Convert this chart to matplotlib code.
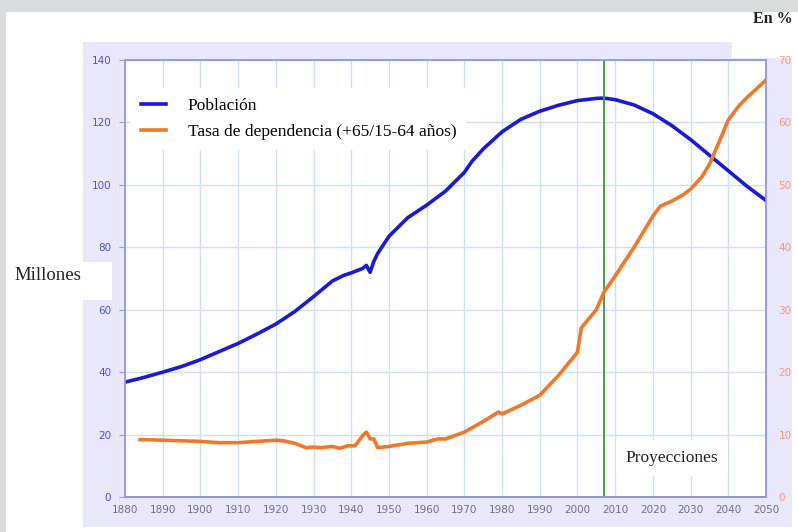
import numpy as np
import matplotlib.pyplot as plt
from matplotlib.patches import Rectangle

# poblacion (millones), eje izquierdo
pop_years = [1880, 1885, 1890, 1895, 1900, 1905, 1910, 1915, 1920, 1925, 1930, 1935,
             1938, 1940, 1943, 1944, 1945, 1946, 1947, 1950, 1955, 1960, 1965, 1970,
             1972, 1975, 1980, 1985, 1990, 1995, 2000, 2005, 2007, 2010, 2015, 2020,
             2025, 2030, 2035, 2040, 2045, 2050]
pop_vals = [36.8, 38.3, 40.0, 41.8, 44.0, 46.6, 49.2, 52.2, 55.4, 59.4, 64.2, 69.2,
            71.0, 71.8, 73.2, 74.2, 72.0, 75.5, 78.0, 83.5, 89.5, 93.5, 98.0, 104.0,
            107.5, 111.5, 117.0, 121.0, 123.6, 125.5, 127.0, 127.7, 127.8, 127.3, 125.6, 122.8,
            119.0, 114.5, 109.5, 104.5, 99.5, 95.0]

# tasa de dependencia (%), eje derecho
dep_years = [1884, 1890, 1900, 1905, 1910, 1915, 1920, 1922, 1925, 1928, 1930, 1932,
             1935, 1937, 1939, 1941, 1943, 1944, 1945, 1946, 1947, 1950, 1955, 1960,
             1963, 1965, 1970, 1975, 1979, 1980, 1985, 1990, 1995, 2000, 2001, 2005,
             2007, 2010, 2015, 2020, 2022, 2025, 2028, 2030, 2033, 2035, 2038, 2040,
             2043, 2045, 2050]
dep_vals = [9.2, 9.1, 8.9, 8.7, 8.7, 8.9, 9.1, 9.0, 8.6, 7.9, 8.0, 7.9,
            8.1, 7.8, 8.2, 8.2, 9.8, 10.4, 9.3, 9.3, 7.9, 8.1, 8.6, 8.8,
            9.3, 9.3, 10.4, 12.1, 13.6, 13.3, 14.7, 16.3, 19.5, 23.2, 27.1, 30.0,
            32.8, 35.4, 40.0, 45.0, 46.6, 47.4, 48.4, 49.3, 51.3, 53.3, 57.5, 60.4,
            62.8, 64.0, 66.8]

proj_year = 2007
xticks = np.arange(1880, 2051, 10)
yticks_left = np.arange(0, 141, 20)
yticks_right = np.arange(0, 71, 10)

W, H = 798, 532
fig = plt.figure(figsize=(W / 100, H / 100), dpi=100)
fig.patch.set_facecolor('white')


def px_rect(x0, y0, x1, y1, color):
    fig.patches.append(Rectangle((x0 / W, 1 - y1 / H), (x1 - x0) / W, (y1 - y0) / H,
                                 transform=fig.transFigure, facecolor=color,
                                 edgecolor='none', zorder=-10))


# fondos
px_rect(0, 0, W, 12, '#d9dcdc')
px_rect(0, 0, 6, H, '#d9dcdc')
px_rect(83, 42, 732, 60, '#e8e8fa')
px_rect(83, 58, 792, 527, '#e8e8fa')
px_rect(6, 262, 112, 300, 'white')

ax = fig.add_axes([125 / W, 1 - 497 / H, 641 / W, 437 / H])
ax.set_facecolor('white')
ax2 = ax.twinx()

ax.plot(pop_years, pop_vals, color='#1a1ad6', lw=2.6, label='Población', zorder=3)
ax2.plot(dep_years, dep_vals, color='#f07828', lw=2.6, zorder=3)
ax.plot([], [], color='#f07828', lw=2.6, label='Tasa de dependencia (+65/15-64 años)')
ax.axvline(proj_year, color='#4c9c4c', lw=1.4, zorder=4)

ax.set_xlim(1880, 2050)
ax.set_ylim(0, 140)
ax2.set_ylim(0, 70)
ax.set_xticks(xticks)
ax.set_yticks(yticks_left)
ax2.set_yticks(yticks_right)
ax.grid(True, color='#cfe0f6', lw=1.0)
ax.set_axisbelow(True)

for a in (ax, ax2):
    for s in a.spines.values():
        s.set_color('#9a9ae6')
        s.set_linewidth(1.2)
ax.spines['bottom'].set_color('#606070')
ax.tick_params(axis='x', colors='#9a9ae6', labelcolor='#707080', labelsize=7.5, length=0, pad=6)
ax.tick_params(axis='y', colors='#9a9ae6', labelcolor='#5050d8', labelsize=7.5, length=4, pad=6)
ax2.tick_params(axis='y', colors='#9a9ae6', labelcolor='#f49a78', labelsize=7.5, length=0, pad=9)

leg = ax.legend(loc='upper left', bbox_to_anchor=(0.01, 0.936), frameon=True, fancybox=False,
                prop={'family': 'Liberation Serif', 'size': 12.5}, handlelength=1.45,
                handletextpad=1.25, labelspacing=0.6, borderpad=0.55, borderaxespad=0)
leg.get_frame().set_edgecolor('none')
leg.get_frame().set_facecolor('white')
leg.get_frame().set_alpha(1)
leg.set_zorder(5)

ax.text(2025, 12.5, 'Proyecciones', fontfamily='Liberation Serif', fontsize=12.5,
        color='#222222', ha='center', va='center', zorder=5,
        bbox=dict(facecolor='white', edgecolor='none', pad=7))

fig.text(48 / W, 1 - 276 / H, 'Millones', fontfamily='Liberation Serif', fontsize=13.5,
         color='#222222', ha='center', va='center')
fig.text(793 / W, 1 - 19 / H, 'En %', fontfamily='Liberation Serif', fontsize=11.5,
         fontweight='bold', color='#222222', ha='right', va='center')

fig.savefig('out.png', dpi=100)
